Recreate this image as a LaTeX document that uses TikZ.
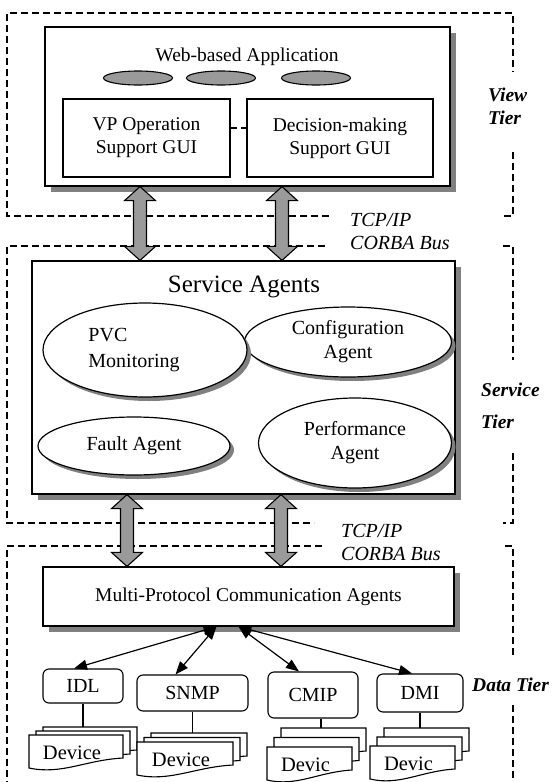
\documentclass[tikz,border=0pt]{standalone}
\usepackage{fontspec}
\setmainfont{Liberation Serif}
\usetikzlibrary{arrows.meta,calc,positioning,shapes.geometric}
\definecolor{shadowgray}{HTML}{808080}
\definecolor{busgray}{HTML}{9A9A9A}
\newcommand{\txt}{\fontsize{19.5}{23}\selectfont}
\tikzset{frame/.style={line width=1.3pt, dash pattern=on 7pt off 4pt},
  box/.style={draw, fill=white, line width=1.2pt, inner sep=0pt, font=\txt, align=center},
  agent/.style={ellipse, draw, fill=white, line width=1.2pt, inner sep=0pt, align=center,
    font=\fontsize{20}{24}\selectfont},
  dot/.style={ellipse, draw, fill=busgray, line width=1.1pt, minimum width=69pt, minimum height=14pt, inner sep=0pt},
  proto/.style={draw, fill=white, rounded corners=6pt, line width=1.1pt, inner sep=0pt, font=\fontsize{20}{24}\selectfont},
  tier/.style={font=\fontsize{19.5}{23}\selectfont\bfseries\itshape, align=left, anchor=west, inner sep=0pt},
  bus/.style={font=\fontsize{20}{23}\selectfont\itshape, align=left, anchor=west, inner sep=0pt},
  link/.style={{Triangle[length=13pt,width=10pt]}-{Triangle[length=13pt,width=10pt]}, line width=1.2pt},
  pics/page/.style={code={
    \filldraw[fill=white, line width=1.1pt] (0,0) -- (#1,0) -- (#1,23)
      .. controls ({0.6*#1},25) and ({0.35*#1},40) .. (0,33) -- cycle;}}}
% box with gray offset shadow: name, x, y, width, height, text
\newcommand{\shbox}[6]{%
  \fill[shadowgray] ({#2-#4/2+6},{#3-#5/2+6}) rectangle ({#2+#4/2+6},{#3+#5/2+6});
  \node[box, minimum width=#4pt, minimum height=#5pt] (#1) at (#2,#3) {#6};}
% ellipse with gray offset shadow: name, x, y, width, height, text
\newcommand{\shagent}[6]{%
  \fill[shadowgray] ({#2+4},{#3+4}) ellipse [x radius={#4/2}, y radius={#5/2}];
  \node[agent, minimum width=#4pt, minimum height=#5pt] (#1) at (#2,#3) {#6};}
% gray two-headed bus arrow, top point to bottom point
\newcommand{\busarrow}[2]{%
  \filldraw[fill=busgray, line width=1.1pt, line join=miter] (#1) -- ++(15.5,14) -- ++(-9,0)
    -- ($(#2)+(6.5,-14)$) -- ++(9,0) -- (#2) -- ++(-15.5,-14) -- ++(9,0)
    -- ($(#1)+(-6.5,14)$) -- ++(-9,0) -- cycle;}
% stack of three device pages: name, left, top, width, step, text
\newcommand{\devstack}[6]{%
  \pic at ({#2+14},{#3-2*#5}) {page=#4};
  \pic at ({#2+7},{#3-#5}) {page=#4};
  \pic at (#2,#3) {page=#4};
  \node[font=\fontsize{20.5}{24}\selectfont, inner sep=0pt] (#1) at ({#2+#4/2-4},{#3+18}) {#6};
  \coordinate (#1-top) at ({#2+#4/2},{#3-2*#5});}

\begin{document}
\begin{tikzpicture}[x=1pt, y=-1pt]
  \useasboundingbox (0,0) rectangle (554,782);
  \clip (0,0) rectangle (554,782);
  % tier frames
  \draw[frame] (329,216) -- (7,216) -- (7,13) -- (513,13) -- (513,72);
  \draw[frame] (513,152) -- (513,216) -- (503,216);
  \draw[frame] (325,246) -- (7,246) -- (7,523) -- (314,523);
  \draw[frame] (503,246) -- (513,246) -- (513,360);
  \draw[frame] (513,453) -- (513,523) -- (503,523);
  \draw[frame] (322,546) -- (7,546) -- (7,782);
  \draw[frame] (505,546) -- (513,546) -- (513,655);
  \draw[frame] (513,705) -- (513,782);
  \node[tier] (view) at (488,106.5) {View\\Tier};
  \node[tier] (serv) at (481,406) {Service\\[9pt]Tier};
  \node[tier] (data) at (472,685) {Data Tier};
  \node[bus] (bus1) at (350,231.5) {TCP/IP\\CORBA Bus};
  \node[bus] (bus2) at (341,542.5) {TCP/IP\\CORBA Bus};
  % view tier
  \shbox{web}{247.5}{106.5}{405}{159}{}
  \node[font=\txt] (webt) at (247,57) {Web-based Application};
  \node[dot] (d1) at (138,78) {};
  \node[dot] (d2) at (221,78) {};
  \node[dot] (d3) at (316,78) {};
  \node[box, minimum width=167pt, minimum height=78pt] (vp) at (146.5,138) {VP Operation\\Support GUI};
  \node[box, minimum width=186pt, minimum height=78pt] (dm) at (340,138) {Decision-making\\Support GUI};
  \draw[line width=1.2pt, dash pattern=on 6pt off 4pt] ([yshift=10pt]vp.east) -- ([yshift=10pt]dm.west);
  % service tier
  \shbox{svc}{243.5}{377.5}{423}{233}{}
  \node[font=\fontsize{25}{30}\selectfont] (svct) at (244,287) {Service Agents};
  \shagent{cfg}{348}{342}{207}{70}{Configuration\\Agent}
  \shagent{pvc}{145}{350}{204}{94}{}
  \node[font=\fontsize{20}{26}\selectfont, align=left, inner sep=0pt] (pvct) at (134,350) {PVC\\Monitoring};
  \shagent{perf}{355}{443}{193}{90}{Performance\\Agent}
  \shagent{fault}{134}{446}{192}{58}{Fault Agent}
  % data tier
  \shbox{mpc}{248.5}{596.5}{411}{59}{Multi-Protocol Communication Agents}
  \node[proto, minimum width=80pt, minimum height=34pt] (idl) at (83,686) {IDL};
  \node[proto, minimum width=111pt, minimum height=36pt] (snmp) at (192.5,693) {SNMP};
  \node[proto, minimum width=90pt, minimum height=46pt] (cmip) at (313,695) {CMIP};
  \node[proto, minimum width=86pt, minimum height=38pt] (dmi) at (420,693) {DMI};
  % bus arrows
  \coordinate (ua) at (140,0);
  \coordinate (ub) at (282,0);
  \coordinate (la) at (127,0);
  \coordinate (lb) at (281,0);
  \busarrow{ua |- web.south}{ua |- svc.north}
  \busarrow{ub |- web.south}{ub |- svc.north}
  \busarrow{la |- svc.south}{la |- mpc.north}
  \busarrow{lb |- svc.south}{lb |- mpc.north}
  % protocol links
  \coordinate (hubl) at ([xshift=-32pt]mpc.south);
  \coordinate (hubr) at ([xshift=-10pt]mpc.south);
  \draw[link] (hubl) -- ([xshift=-9pt]idl.north);
  \draw[link] (hubl) -- ([xshift=-17pt]snmp.north);
  \draw[link] (hubr) -- ([xshift=-14pt]cmip.north);
  \draw[link] (hubr) -- ([xshift=-8pt]dmi.north);
  % devices
  \devstack{idlst}{29}{735}{94}{4}{Device}
  \devstack{snmpst}{137}{742}{96}{4.5}{Device}
  \devstack{cmipst}{267}{747}{85}{9.5}{Devic}
  \devstack{dmist}{370}{746}{85}{9}{Devic}
  \coordinate (cmipx) at ([xshift=8pt]cmip.south);
  \draw[line width=1.1pt] (idl.south) -- (idl.south |- idlst-top);
  \draw[line width=1.1pt] (snmp.south) -- (snmp.south |- snmpst-top);
  \draw[line width=1.1pt] (cmipx) -- (cmipx |- cmipst-top);
  \draw[line width=1.1pt] (dmi.south) -- (dmi.south |- dmist-top);
\end{tikzpicture}
\end{document}
